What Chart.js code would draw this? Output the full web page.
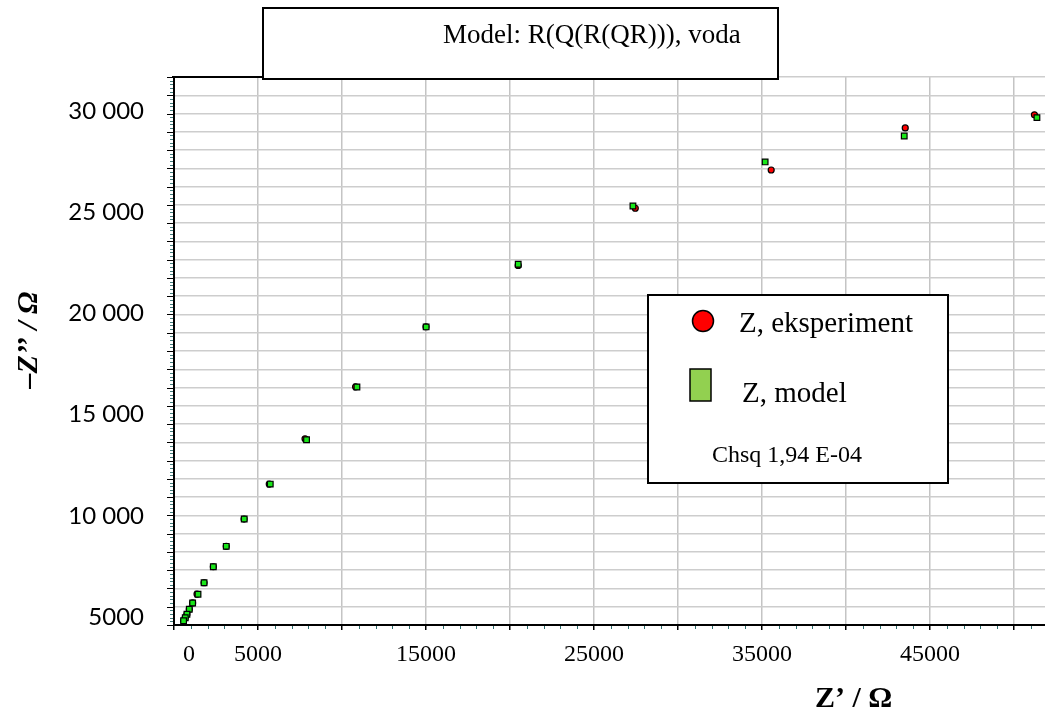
<!DOCTYPE html>
<html>
<head>
<meta charset="utf-8">
<script src="https://cdn.jsdelivr.net/npm/chart.js@4.4.1/dist/chart.umd.min.js"></script>
<style>
  html, body { margin: 0; padding: 0; background: #fff; }
  #wrap { width: 1045px; height: 715px; position: relative; }
</style>
</head>
<body>
<div id="wrap"><canvas id="nyquist"></canvas></div>
<script>
const expZre = [51220, 43530, 35550, 27460, 20490, 15000, 10810, 7800, 5670, 4170, 3110, 2340, 1790, 1370, 1110, 910, 770, 670, 570];
const expZim = [29830, 29180, 27100, 25210, 22380, 19350, 16380, 13810, 11570, 9840, 8490, 7480, 6690, 6130, 5690, 5380, 5130, 4960, 4810];
const modZre = [51370, 43470, 35190, 27320, 20490, 15010, 10890, 7890, 5730, 4180, 3110, 2340, 1790, 1430, 1110, 910, 770, 670, 570];
const modZim = [29690, 28780, 27500, 25320, 22440, 19340, 16370, 13760, 11570, 9840, 8490, 7480, 6690, 6120, 5690, 5380, 5130, 4960, 4810];

const yTickValues = [5000, 10000, 15000, 20000, 25000, 30000];
const yTickLabels = ['5000', '10 000', '15 000', '20 000', '25 000', '30 000'];
const xLabelValues = [0, 5000, 15000, 25000, 35000, 45000];

const titleText = 'Model: R(Q(R(QR))), voda';
const legendLabels = ['Z, eksperiment', 'Z, model'];
const chsqText = 'Chsq 1,94 E-04';

const toPoints = (xs, ys) => xs.map((x, i) => ({ x: x, y: ys[i] }));

// boxes, axis titles and minor ticks drawn on top of the chart
const overlay = {
    id: 'overlay',
    afterDraw(chart) {
        const ctx = chart.ctx;
        const { left, top, bottom } = chart.chartArea;
        const xs = chart.scales.x;
        const gs = chart.scales.yGrid;
        ctx.save();

        // minor ticks
        ctx.lineWidth = 1;
        for (let v = 1000; v < xs.max; v += 1000) {
            if (v % 5000 === 0) continue;
            const px = Math.round(xs.getPixelForValue(v)) + 0.5;
            ctx.strokeStyle = '#2e6e6e';
            ctx.beginPath(); ctx.moveTo(px, bottom + 1); ctx.lineTo(px, bottom + 4); ctx.stroke();
        }
        for (let i = 0; i <= 150; i++) {
            const py = Math.round(gs.getPixelForValue(i / 5)) + 0.5;
            const major = i % 5 === 0;
            ctx.strokeStyle = major ? '#000' : '#3f7a7a';
            ctx.beginPath(); ctx.moveTo(left - 1, py); ctx.lineTo(left - (major ? 7 : 4), py); ctx.stroke();
        }

        // dark top edge left of the title box
        ctx.strokeStyle = '#000';
        ctx.lineWidth = 2;
        ctx.beginPath(); ctx.moveTo(left - 2, top); ctx.lineTo(263, top); ctx.stroke();

        // title box
        ctx.fillStyle = '#fff';
        ctx.fillRect(263, 8, 515, 71);
        ctx.strokeRect(263, 8, 515, 71);
        ctx.fillStyle = '#000';
        ctx.font = '27px "Liberation Serif"';
        ctx.textAlign = 'left';
        ctx.textBaseline = 'alphabetic';
        ctx.fillText(titleText, 443, 43);

        // legend box
        const ds = chart.data.datasets;
        ctx.fillStyle = '#fff';
        ctx.fillRect(648, 295, 300, 188);
        ctx.strokeRect(648, 295, 300, 188);
        ctx.lineWidth = 1.5;
        ctx.fillStyle = ds[0].legendColor;
        ctx.beginPath(); ctx.arc(703, 321, 10.5, 0, Math.PI * 2); ctx.fill(); ctx.stroke();
        ctx.fillStyle = ds[1].legendColor;
        ctx.fillRect(690, 369, 21, 32); ctx.strokeRect(690, 369, 21, 32);
        ctx.fillStyle = '#000';
        ctx.font = '29px "Liberation Serif"';
        ctx.fillText(legendLabels[0], 739, 332);
        ctx.fillText(legendLabels[1], 742, 402);
        ctx.font = '24px "Liberation Serif"';
        ctx.fillText(chsqText, 712, 462);

        // axis titles
        ctx.font = 'bold 30px "Liberation Serif"';
        ctx.fillText('Z\u2019 / \u03A9', 815, 707);
        ctx.translate(37, 340);
        ctx.rotate(-Math.PI / 2);
        ctx.textAlign = 'center';
        ctx.font = 'italic bold 30px "Liberation Serif"';
        ctx.fillText('\u2013Z\u2019\u2019 / \u03A9', 0, 0);
        ctx.restore();
    }
};

new Chart(document.getElementById('nyquist'), {
    type: 'scatter',
    data: {
        datasets: [
            {
                label: legendLabels[0],
                data: toPoints(expZre, expZim),
                pointStyle: 'circle',
                pointRadius: 3,
                backgroundColor: '#ff0000',
                borderColor: '#000',
                borderWidth: 1.2,
                legendColor: '#ff0000',
                order: 2
            },
            {
                label: legendLabels[1],
                data: toPoints(modZre, modZim),
                pointStyle: 'rect',
                pointRadius: 4,
                backgroundColor: '#19e619',
                borderColor: '#000',
                borderWidth: 1.2,
                legendColor: '#92d050',
                order: 1
            }
        ]
    },
    options: {
        responsive: true,
        maintainAspectRatio: false,
        animation: false,
        layout: { autoPadding: false, padding: { top: 77, right: 0, bottom: 0, left: 0 } },
        plugins: {
            legend: { display: false },
            tooltip: { enabled: false }
        },
        scales: {
            x: {
                type: 'linear',
                position: 'bottom',
                min: 0,
                max: 51850,
                afterFit: (s) => { s.height = 90; },
                // grid every 5000, starting at 0
                afterBuildTicks: (s) => {
                    const t = [];
                    for (let v = 0; v <= s.max; v += 5000) t.push({ value: v });
                    s.ticks = t;
                },
                ticks: {
                    autoSkip: false,
                    maxRotation: 0,
                    padding: 10,
                    color: '#000',
                    font: { family: 'Liberation Serif', size: 24 },
                    callback: (v) => {
                        if (!xLabelValues.includes(v)) return '';
                        return v === 0 ? '     0' : String(v);
                    }
                },
                grid: { color: '#c4c4c4', lineWidth: 1.5, tickColor: '#000', tickLength: 5, tickWidth: 1.5 },
                border: { color: '#000', width: 2 }
            },
            y: {
                type: 'linear',
                position: 'left',
                min: 4600,
                max: 31700,
                afterFit: (s) => { s.width = 174; },
                afterBuildTicks: (s) => { s.ticks = yTickValues.map(v => ({ value: v })); },
                ticks: {
                    padding: 30,
                    color: '#000',
                    font: { family: 'Lato', size: 24 },
                    callback: (v) => yTickLabels[yTickValues.indexOf(v)]
                },
                grid: { drawOnChartArea: false, drawTicks: false },
                border: { color: '#000', width: 2 }
            },
            yGrid: {
                type: 'linear',
                position: 'left',
                min: 0,
                max: 30,
                afterFit: (s) => { s.width = 0; },
                ticks: { display: false, stepSize: 1, maxTicksLimit: 100 },
                grid: { color: '#cdcdcd', lineWidth: 1.5, drawTicks: false },
                border: { display: false }
            }
        }
    },
    plugins: [overlay]
});
</script>
</body>
</html>
